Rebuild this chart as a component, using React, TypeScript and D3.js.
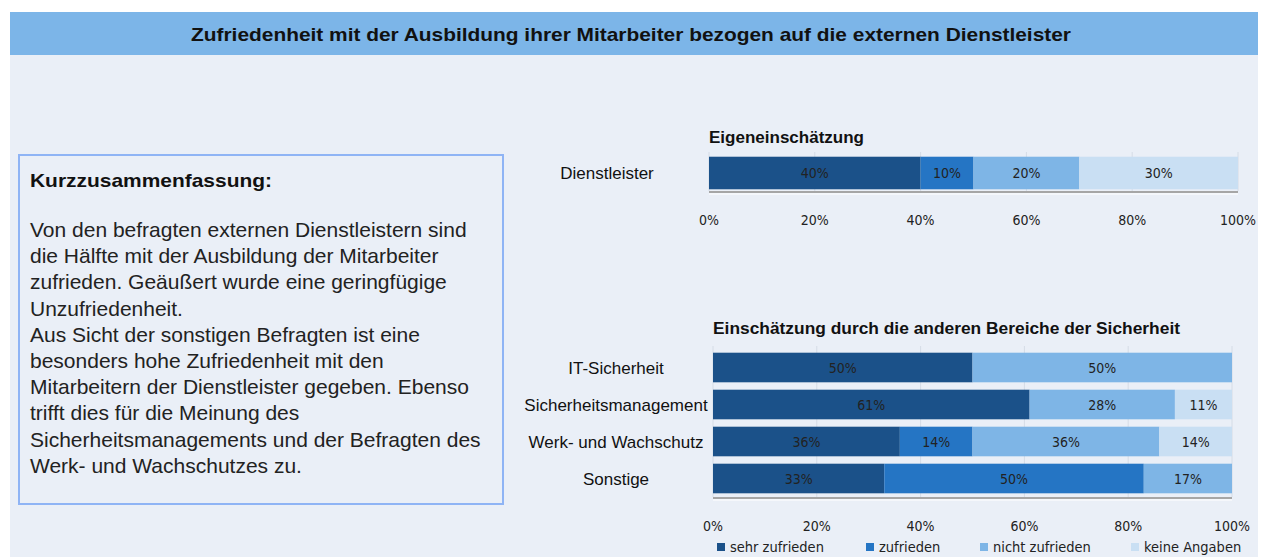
import React from "react";
import * as d3 from "d3";

const title = "Zufriedenheit mit der Ausbildung ihrer Mitarbeiter bezogen auf die externen Dienstleister";

const seriesNames = ["sehr zufrieden", "zufrieden", "nicht zufrieden", "keine Angaben"];
const seriesColors = ["#1b5189", "#2575c4", "#7eb5e6", "#c9dff3"];

const ownCategories = ["Dienstleister"];
const ownValues = [[40, 10, 20, 30]];

const otherCategories = ["IT-Sicherheit", "Sicherheitsmanagement", "Werk- und Wachschutz", "Sonstige"];
const otherValues = [
  [50, 0, 50, 0],
  [61, 0, 28, 11],
  [36, 14, 36, 14],
  [33, 50, 17, 0],
];

const tickValues = [0, 20, 40, 60, 80, 100];

const summaryHeading = "Kurzzusammenfassung:";
const summaryLines = [
  "Von den befragten externen Dienstleistern sind",
  "die Hälfte mit der Ausbildung der Mitarbeiter",
  "zufrieden. Geäußert wurde eine geringfügige",
  "Unzufriedenheit.",
  "Aus Sicht der sonstigen Befragten ist eine",
  "besonders hohe Zufriedenheit mit den",
  "Mitarbeitern der Dienstleister gegeben. Ebenso",
  "trifft dies für die Meinung des",
  "Sicherheitsmanagements und der Befragten des",
  "Werk- und Wachschutzes zu.",
];

const sans = "'Liberation Sans', Arial, sans-serif";
const narrow = "'DejaVu Sans Condensed', 'DejaVu Sans', sans-serif";

function StackedChart({
  categories,
  values,
  chartTitle,
  titleWidth,
  titleY,
  left,
  right,
  top,
  bottom,
  labelCenter,
  padInner,
  padOuter,
  tickY,
}: {
  categories: string[];
  values: number[][];
  chartTitle: string;
  titleWidth: number;
  titleY: number;
  left: number;
  right: number;
  top: number;
  bottom: number;
  labelCenter: number;
  padInner: number;
  padOuter: number;
  tickY: number;
}) {
  const x = d3.scaleLinear().domain([0, 100]).range([left, right]);
  const y = d3.scaleBand().domain(categories).range([top, bottom]).paddingInner(padInner).paddingOuter(padOuter);
  const rows = categories.map((c, i) => {
    const stack = d3.cumsum(values[i]);
    return values[i].map((v, j) => ({ c, v, j, x0: stack[j] - v, x1: stack[j] }));
  });
  return (
    <g>
      <text x={left} y={titleY} fontFamily={sans} fontWeight="bold" fontSize={16} fill="#111"
        textLength={titleWidth} lengthAdjust="spacingAndGlyphs">
        {chartTitle}
      </text>
      {tickValues.map((t) => (
        <line key={t} x1={x(t)} x2={x(t)} y1={top - 3} y2={bottom} stroke="#d5dce6" strokeWidth={1} />
      ))}
      {rows.map((segs, i) => (
        <g key={categories[i]}>
          {segs.filter((s) => s.v > 0).map((s) => (
            <g key={s.j}>
              <rect x={x(s.x0)} y={y(s.c)} width={x(s.x1) - x(s.x0)} height={y.bandwidth()} fill={seriesColors[s.j]} />
              <text x={(x(s.x0) + x(s.x1)) / 2} y={(y(s.c) as number) + y.bandwidth() / 2 + 5}
                textAnchor="middle" fontFamily={narrow} fontSize={14} fill="#222">
                {s.v}%
              </text>
            </g>
          ))}
          <text x={labelCenter} y={(y(categories[i]) as number) + y.bandwidth() / 2 + 6}
            textAnchor="middle" fontFamily={sans} fontSize={17} fill="#111">
            {categories[i]}
          </text>
        </g>
      ))}
      <line x1={left} x2={right} y1={bottom + 1} y2={bottom + 1} stroke="#a6a6a6" strokeWidth={2} />
      <line x1={left} x2={right} y1={bottom + 3} y2={bottom + 3} stroke="#ffffff" strokeWidth={1} />
      {tickValues.map((t) => (
        <text key={t} x={x(t)} y={tickY} textAnchor="middle" fontFamily={narrow} fontSize={14} fill="#222">
          {t}%
        </text>
      ))}
    </g>
  );
}

export default function App() {
  const legendX = [717, 866, 980, 1131];
  return (
    <svg width={1263} height={557} style={{ position: "absolute", left: 0, top: 0 }}>
      <rect x={0} y={0} width={1263} height={557} fill="#ffffff" />
      <rect x={10} y={12} width={1248} height={545} fill="#eaeff7" />
      <rect x={10} y={12} width={1248} height={43} fill="#7cb5e8" />
      <text x={631} y={41} textAnchor="middle" fontFamily={sans} fontWeight="bold" fontSize={19} fill="#111"
        textLength={880} lengthAdjust="spacingAndGlyphs">
        {title}
      </text>

      <rect x={19} y={155} width={484} height={349} fill="none" stroke="#8fb4f5" strokeWidth={2} />
      <text x={30} y={187} fontFamily={sans} fontWeight="bold" fontSize={19} fill="#111"
        textLength={242} lengthAdjust="spacingAndGlyphs">
        {summaryHeading}
      </text>
      {summaryLines.map((l, i) => (
        <text key={i} x={30} y={237 + i * 26.2} fontFamily={sans} fontSize={21} fill="#222">
          {l}
        </text>
      ))}

      <StackedChart categories={ownCategories} values={ownValues} chartTitle="Eigeneinschätzung" titleWidth={155}
        titleY={143} left={709} right={1238} top={155} bottom={191} labelCenter={607} padInner={0.05}
        padOuter={0.05} tickY={225} />
      <StackedChart categories={otherCategories} values={otherValues}
        chartTitle="Einschätzung durch die anderen Bereiche der Sicherheit" titleWidth={467}
        titleY={334} left={713} right={1232} top={349} bottom={497} labelCenter={616} padInner={0.2}
        padOuter={0.1} tickY={531} />

      {seriesNames.map((n, i) => (
        <g key={n}>
          <rect x={legendX[i]} y={543} width={8} height={8} fill={seriesColors[i]} />
          <text x={legendX[i] + 13} y={552} fontFamily={narrow} fontSize={14.5} fill="#222">
            {n}
          </text>
        </g>
      ))}
    </svg>
  );
}
